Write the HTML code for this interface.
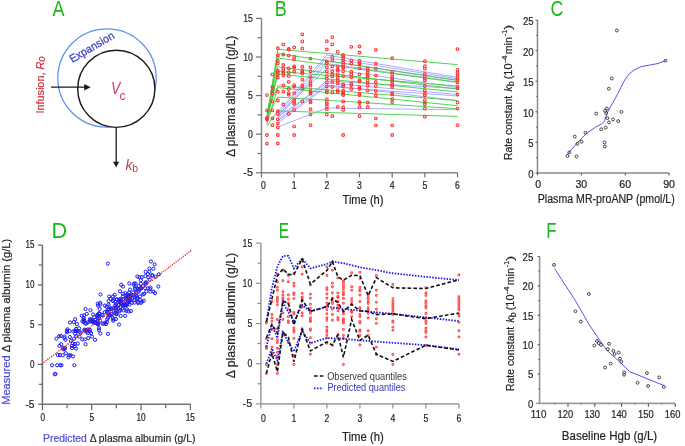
<!DOCTYPE html>
<html><head><meta charset="utf-8"><style>
html,body{margin:0;padding:0;background:#fff;}
svg{display:block;font-family:'Liberation Sans', sans-serif;will-change:transform;}
</style></head><body>
<svg width="685" height="446" viewBox="0 0 685 446">
<rect width="685" height="446" fill="#fff"/>
<text x="52.50" y="15.80" font-size="22" text-anchor="start" fill="#19b619" textLength="12.0" lengthAdjust="spacingAndGlyphs" >A</text>
<circle cx="107" cy="78" r="49.2" fill="none" stroke="#5a92f0" stroke-width="1.25"/>
<circle cx="116.3" cy="88.8" r="38.6" fill="#fff" stroke="#1a1a1a" stroke-width="1.4"/>
<text transform="translate(72.2,63.1) rotate(-30.5)" font-size="11.2" fill="#3b3ec6" stroke="#3b3ec6" stroke-width="0.25" textLength="50" lengthAdjust="spacingAndGlyphs">Expansion</text>
<line x1="51.10" y1="87.20" x2="85.00" y2="87.20" stroke="#1a1a1a" stroke-width="1.3" />
<path d="M84.2,84 L90.7,87.2 L84.2,90.4 Z" fill="#1a1a1a"/>
<line x1="116.20" y1="127.40" x2="116.20" y2="162.50" stroke="#1a1a1a" stroke-width="1.3" />
<path d="M113,161.8 L116.2,167.2 L119.2,161.8 Z" fill="#1a1a1a"/>
<text x="110.90" y="93.80" font-size="17" text-anchor="start" fill="#d6336c" textLength="9.3" lengthAdjust="spacingAndGlyphs" font-style="italic">V</text>
<text x="119.60" y="99.60" font-size="12" text-anchor="start" fill="#d6336c" >c</text>
<text x="125.50" y="169.50" font-size="14" text-anchor="start" fill="#cc3a3a" font-style="italic">k</text>
<text x="132.30" y="172.30" font-size="10.5" text-anchor="start" fill="#cc3a3a" >b</text>
<text transform="translate(44.4,113.6) rotate(-90)" font-size="11.8" fill="#c9303a" stroke="#c9303a" stroke-width="0.2" textLength="57.3" lengthAdjust="spacingAndGlyphs">Infusion, <tspan font-style="italic">R</tspan><tspan font-style="italic" font-size="10.5" dy="0.8">o</tspan></text>
<text x="274.66" y="15.80" font-size="22" text-anchor="start" fill="#19b619" textLength="12.0" lengthAdjust="spacingAndGlyphs" >B</text>
<path d="M261.50,18.40 L261.50,172.80 L457.52,172.80" fill="none" stroke="#858585" stroke-width="1.45"/>
<line x1="256.00" y1="172.80" x2="261.50" y2="172.80" stroke="#6a6a6a" stroke-width="1.15" />
<line x1="257.50" y1="153.50" x2="261.50" y2="153.50" stroke="#6a6a6a" stroke-width="1.15" />
<line x1="256.00" y1="134.20" x2="261.50" y2="134.20" stroke="#6a6a6a" stroke-width="1.15" />
<line x1="257.50" y1="114.90" x2="261.50" y2="114.90" stroke="#6a6a6a" stroke-width="1.15" />
<line x1="256.00" y1="95.60" x2="261.50" y2="95.60" stroke="#6a6a6a" stroke-width="1.15" />
<line x1="257.50" y1="76.30" x2="261.50" y2="76.30" stroke="#6a6a6a" stroke-width="1.15" />
<line x1="256.00" y1="57.00" x2="261.50" y2="57.00" stroke="#6a6a6a" stroke-width="1.15" />
<line x1="257.50" y1="37.70" x2="261.50" y2="37.70" stroke="#6a6a6a" stroke-width="1.15" />
<line x1="256.00" y1="18.40" x2="261.50" y2="18.40" stroke="#6a6a6a" stroke-width="1.15" />
<line x1="261.50" y1="172.80" x2="261.50" y2="177.40" stroke="#6a6a6a" stroke-width="1.15" />
<line x1="294.17" y1="172.80" x2="294.17" y2="177.40" stroke="#6a6a6a" stroke-width="1.15" />
<line x1="326.84" y1="172.80" x2="326.84" y2="177.40" stroke="#6a6a6a" stroke-width="1.15" />
<line x1="359.51" y1="172.80" x2="359.51" y2="177.40" stroke="#6a6a6a" stroke-width="1.15" />
<line x1="392.18" y1="172.80" x2="392.18" y2="177.40" stroke="#6a6a6a" stroke-width="1.15" />
<line x1="424.85" y1="172.80" x2="424.85" y2="177.40" stroke="#6a6a6a" stroke-width="1.15" />
<line x1="457.52" y1="172.80" x2="457.52" y2="177.40" stroke="#6a6a6a" stroke-width="1.15" />
<text x="252.90" y="176.30" font-size="10.3" text-anchor="end" fill="#231f20" textLength="9.6" lengthAdjust="spacingAndGlyphs" stroke="#231f20" stroke-width="0.22">-5</text>
<text x="252.90" y="137.70" font-size="10.3" text-anchor="end" fill="#231f20" textLength="4.8" lengthAdjust="spacingAndGlyphs" stroke="#231f20" stroke-width="0.22">0</text>
<text x="252.90" y="99.10" font-size="10.3" text-anchor="end" fill="#231f20" textLength="4.8" lengthAdjust="spacingAndGlyphs" stroke="#231f20" stroke-width="0.22">5</text>
<text x="252.90" y="60.50" font-size="10.3" text-anchor="end" fill="#231f20" textLength="9.6" lengthAdjust="spacingAndGlyphs" stroke="#231f20" stroke-width="0.22">10</text>
<text x="252.90" y="21.90" font-size="10.3" text-anchor="end" fill="#231f20" textLength="9.6" lengthAdjust="spacingAndGlyphs" stroke="#231f20" stroke-width="0.22">15</text>
<text x="263.50" y="189.20" font-size="10.3" text-anchor="middle" fill="#231f20" textLength="4.8" lengthAdjust="spacingAndGlyphs" stroke="#231f20" stroke-width="0.22">0</text>
<text x="294.17" y="189.20" font-size="10.3" text-anchor="middle" fill="#231f20" textLength="4.8" lengthAdjust="spacingAndGlyphs" stroke="#231f20" stroke-width="0.22">1</text>
<text x="326.84" y="189.20" font-size="10.3" text-anchor="middle" fill="#231f20" textLength="4.8" lengthAdjust="spacingAndGlyphs" stroke="#231f20" stroke-width="0.22">2</text>
<text x="359.51" y="189.20" font-size="10.3" text-anchor="middle" fill="#231f20" textLength="4.8" lengthAdjust="spacingAndGlyphs" stroke="#231f20" stroke-width="0.22">3</text>
<text x="392.18" y="189.20" font-size="10.3" text-anchor="middle" fill="#231f20" textLength="4.8" lengthAdjust="spacingAndGlyphs" stroke="#231f20" stroke-width="0.22">4</text>
<text x="424.85" y="189.20" font-size="10.3" text-anchor="middle" fill="#231f20" textLength="4.8" lengthAdjust="spacingAndGlyphs" stroke="#231f20" stroke-width="0.22">5</text>
<text x="457.52" y="189.20" font-size="10.3" text-anchor="middle" fill="#231f20" textLength="4.8" lengthAdjust="spacingAndGlyphs" stroke="#231f20" stroke-width="0.22">6</text>
<text x="363.00" y="204.00" font-size="12" text-anchor="middle" fill="#231f20" textLength="41.0" lengthAdjust="spacingAndGlyphs" stroke="#231f20" stroke-width="0.2">Time (h)</text>
<text transform="translate(235.00,96.20) rotate(-90)" font-size="12" text-anchor="middle" fill="#231f20" textLength="121.0" lengthAdjust="spacingAndGlyphs" stroke="#231f20" stroke-width="0.2">Δ plasma albumin (g/L)</text>
<text x="550.50" y="15.60" font-size="22" text-anchor="start" fill="#19b619" textLength="12.9" lengthAdjust="spacingAndGlyphs" >C</text>
<path d="M537.50,20.10 L537.50,172.90 L669.10,172.90" fill="none" stroke="#8a8a8a" stroke-width="1.5"/>
<line x1="535.50" y1="172.90" x2="537.50" y2="172.90" stroke="#606060" stroke-width="1.15" />
<line x1="536.30" y1="157.62" x2="537.50" y2="157.62" stroke="#606060" stroke-width="1.15" />
<line x1="535.50" y1="142.34" x2="537.50" y2="142.34" stroke="#606060" stroke-width="1.15" />
<line x1="536.30" y1="127.06" x2="537.50" y2="127.06" stroke="#606060" stroke-width="1.15" />
<line x1="535.50" y1="111.78" x2="537.50" y2="111.78" stroke="#606060" stroke-width="1.15" />
<line x1="536.30" y1="96.50" x2="537.50" y2="96.50" stroke="#606060" stroke-width="1.15" />
<line x1="535.50" y1="81.22" x2="537.50" y2="81.22" stroke="#606060" stroke-width="1.15" />
<line x1="536.30" y1="65.94" x2="537.50" y2="65.94" stroke="#606060" stroke-width="1.15" />
<line x1="535.50" y1="50.66" x2="537.50" y2="50.66" stroke="#606060" stroke-width="1.15" />
<line x1="536.30" y1="35.38" x2="537.50" y2="35.38" stroke="#606060" stroke-width="1.15" />
<line x1="535.50" y1="20.10" x2="537.50" y2="20.10" stroke="#606060" stroke-width="1.15" />
<line x1="537.50" y1="172.90" x2="537.50" y2="175.40" stroke="#606060" stroke-width="1.15" />
<line x1="581.37" y1="172.90" x2="581.37" y2="175.40" stroke="#606060" stroke-width="1.15" />
<line x1="625.23" y1="172.90" x2="625.23" y2="175.40" stroke="#606060" stroke-width="1.15" />
<line x1="669.10" y1="172.90" x2="669.10" y2="175.40" stroke="#606060" stroke-width="1.15" />
<text x="533.60" y="177.90" font-size="10.8" text-anchor="end" fill="#231f20" textLength="5.3" lengthAdjust="spacingAndGlyphs" stroke="#231f20" stroke-width="0.22">0</text>
<text x="533.60" y="147.34" font-size="10.8" text-anchor="end" fill="#231f20" textLength="5.3" lengthAdjust="spacingAndGlyphs" stroke="#231f20" stroke-width="0.22">5</text>
<text x="533.60" y="116.78" font-size="10.8" text-anchor="end" fill="#231f20" textLength="10.7" lengthAdjust="spacingAndGlyphs" stroke="#231f20" stroke-width="0.22">10</text>
<text x="533.60" y="86.22" font-size="10.8" text-anchor="end" fill="#231f20" textLength="10.7" lengthAdjust="spacingAndGlyphs" stroke="#231f20" stroke-width="0.22">15</text>
<text x="533.60" y="55.66" font-size="10.8" text-anchor="end" fill="#231f20" textLength="10.7" lengthAdjust="spacingAndGlyphs" stroke="#231f20" stroke-width="0.22">20</text>
<text x="533.60" y="25.10" font-size="10.8" text-anchor="end" fill="#231f20" textLength="10.7" lengthAdjust="spacingAndGlyphs" stroke="#231f20" stroke-width="0.22">25</text>
<text x="538.30" y="187.60" font-size="10.5" text-anchor="middle" fill="#231f20" textLength="5.9" lengthAdjust="spacingAndGlyphs" stroke="#231f20" stroke-width="0.22">0</text>
<text x="581.37" y="187.60" font-size="10.5" text-anchor="middle" fill="#231f20" textLength="11.8" lengthAdjust="spacingAndGlyphs" stroke="#231f20" stroke-width="0.22">30</text>
<text x="625.23" y="187.60" font-size="10.5" text-anchor="middle" fill="#231f20" textLength="11.8" lengthAdjust="spacingAndGlyphs" stroke="#231f20" stroke-width="0.22">60</text>
<text x="669.10" y="187.60" font-size="10.5" text-anchor="middle" fill="#231f20" textLength="11.8" lengthAdjust="spacingAndGlyphs" stroke="#231f20" stroke-width="0.22">90</text>
<text x="606.30" y="203.00" font-size="12" text-anchor="middle" fill="#231f20" textLength="137.0" lengthAdjust="spacingAndGlyphs" stroke="#231f20" stroke-width="0.2">Plasma MR-proANP (pmol/L)</text>
<text transform="translate(512.20,159.90) rotate(-90)" font-size="10.6" fill="#231f20" stroke="#231f20" stroke-width="0.2" textLength="64" lengthAdjust="spacingAndGlyphs">Rate constant</text>
<text transform="translate(512.20,91.60) rotate(-90)" font-size="11.5" fill="#231f20" stroke="#231f20" stroke-width="0.2" textLength="5.2" lengthAdjust="spacingAndGlyphs" font-style="italic">k</text>
<text transform="translate(514.20,86.20) rotate(-90)" font-size="8.2" fill="#231f20" stroke="#231f20" stroke-width="0.2" textLength="5.0" lengthAdjust="spacingAndGlyphs">b</text>
<text transform="translate(512.20,79.30) rotate(-90)" font-size="10.6" fill="#231f20" stroke="#231f20" stroke-width="0.2" textLength="15.8" lengthAdjust="spacingAndGlyphs">(10</text>
<text transform="translate(507.30,63.20) rotate(-90)" font-size="7.6" fill="#231f20" stroke="#231f20" stroke-width="0.2" textLength="7.9" lengthAdjust="spacingAndGlyphs">-4</text>
<text transform="translate(512.20,54.20) rotate(-90)" font-size="10.6" fill="#231f20" stroke="#231f20" stroke-width="0.2" textLength="17.0" lengthAdjust="spacingAndGlyphs">min</text>
<text transform="translate(507.30,36.00) rotate(-90)" font-size="7.6" fill="#231f20" stroke="#231f20" stroke-width="0.2" textLength="6.2" lengthAdjust="spacingAndGlyphs">-1</text>
<text transform="translate(512.20,30.00) rotate(-90)" font-size="10.6" fill="#231f20" stroke="#231f20" stroke-width="0.2" textLength="5.3" lengthAdjust="spacingAndGlyphs">)</text>
<text x="51.47" y="237.50" font-size="22" text-anchor="start" fill="#19b619" textLength="15.7" lengthAdjust="spacingAndGlyphs" >D</text>
<path d="M42.40,245.10 L42.40,404.20 L190.38,404.20" fill="none" stroke="#747474" stroke-width="1.6"/>
<line x1="37.90" y1="404.20" x2="42.40" y2="404.20" stroke="#606060" stroke-width="1.15" />
<line x1="38.90" y1="384.31" x2="42.40" y2="384.31" stroke="#606060" stroke-width="1.15" />
<line x1="37.90" y1="364.43" x2="42.40" y2="364.43" stroke="#606060" stroke-width="1.15" />
<line x1="38.90" y1="344.54" x2="42.40" y2="344.54" stroke="#606060" stroke-width="1.15" />
<line x1="37.90" y1="324.65" x2="42.40" y2="324.65" stroke="#606060" stroke-width="1.15" />
<line x1="38.90" y1="304.76" x2="42.40" y2="304.76" stroke="#606060" stroke-width="1.15" />
<line x1="37.90" y1="284.88" x2="42.40" y2="284.88" stroke="#606060" stroke-width="1.15" />
<line x1="38.90" y1="264.99" x2="42.40" y2="264.99" stroke="#606060" stroke-width="1.15" />
<line x1="37.90" y1="245.10" x2="42.40" y2="245.10" stroke="#606060" stroke-width="1.15" />
<line x1="42.40" y1="404.20" x2="42.40" y2="410.20" stroke="#606060" stroke-width="1.15" />
<line x1="67.06" y1="404.20" x2="67.06" y2="408.20" stroke="#606060" stroke-width="1.15" />
<line x1="91.72" y1="404.20" x2="91.72" y2="410.20" stroke="#606060" stroke-width="1.15" />
<line x1="116.39" y1="404.20" x2="116.39" y2="408.20" stroke="#606060" stroke-width="1.15" />
<line x1="141.05" y1="404.20" x2="141.05" y2="410.20" stroke="#606060" stroke-width="1.15" />
<line x1="165.71" y1="404.20" x2="165.71" y2="408.20" stroke="#606060" stroke-width="1.15" />
<line x1="190.38" y1="404.20" x2="190.38" y2="410.20" stroke="#606060" stroke-width="1.15" />
<text x="34.40" y="407.50" font-size="10.1" text-anchor="end" fill="#231f20" textLength="9.0" lengthAdjust="spacingAndGlyphs" stroke="#231f20" stroke-width="0.22">-5</text>
<text x="34.40" y="367.73" font-size="10.1" text-anchor="end" fill="#231f20" textLength="4.5" lengthAdjust="spacingAndGlyphs" stroke="#231f20" stroke-width="0.22">0</text>
<text x="34.40" y="327.95" font-size="10.1" text-anchor="end" fill="#231f20" textLength="4.5" lengthAdjust="spacingAndGlyphs" stroke="#231f20" stroke-width="0.22">5</text>
<text x="34.40" y="288.18" font-size="10.1" text-anchor="end" fill="#231f20" textLength="9.0" lengthAdjust="spacingAndGlyphs" stroke="#231f20" stroke-width="0.22">10</text>
<text x="34.40" y="248.40" font-size="10.1" text-anchor="end" fill="#231f20" textLength="9.0" lengthAdjust="spacingAndGlyphs" stroke="#231f20" stroke-width="0.22">15</text>
<text x="42.90" y="421.30" font-size="10.1" text-anchor="middle" fill="#231f20" textLength="4.6" lengthAdjust="spacingAndGlyphs" stroke="#231f20" stroke-width="0.22">0</text>
<text x="91.72" y="421.30" font-size="10.1" text-anchor="middle" fill="#231f20" textLength="4.6" lengthAdjust="spacingAndGlyphs" stroke="#231f20" stroke-width="0.22">5</text>
<text x="141.05" y="421.30" font-size="10.1" text-anchor="middle" fill="#231f20" textLength="9.2" lengthAdjust="spacingAndGlyphs" stroke="#231f20" stroke-width="0.22">10</text>
<text x="190.38" y="421.30" font-size="10.1" text-anchor="middle" fill="#231f20" textLength="9.2" lengthAdjust="spacingAndGlyphs" stroke="#231f20" stroke-width="0.22">15</text>
<text x="43.1" y="441.7" font-size="11" fill="#231f20" stroke="#231f20" stroke-width="0.2" textLength="152.3" lengthAdjust="spacingAndGlyphs"><tspan fill="#4b4bd6" stroke="#4b4bd6">Predicted</tspan> Δ plasma albumin (g/L)</text>
<text transform="translate(9.6,321.8) rotate(-90)" font-size="11" text-anchor="middle" fill="#231f20" stroke="#231f20" stroke-width="0.2" textLength="166" lengthAdjust="spacingAndGlyphs"><tspan fill="#4b4bd6" stroke="#4b4bd6">Measured</tspan> Δ plasma albumin (g/L)</text>
<text x="278.65" y="237.70" font-size="22" text-anchor="start" fill="#19b619" textLength="10.4" lengthAdjust="spacingAndGlyphs" >E</text>
<path d="M260.90,243.10 L260.90,403.90 L458.90,403.90" fill="none" stroke="#a8a8a8" stroke-width="1.7"/>
<line x1="256.10" y1="403.90" x2="260.90" y2="403.90" stroke="#8a8a8a" stroke-width="1.15" />
<line x1="257.40" y1="383.80" x2="260.90" y2="383.80" stroke="#8a8a8a" stroke-width="1.15" />
<line x1="256.10" y1="363.70" x2="260.90" y2="363.70" stroke="#8a8a8a" stroke-width="1.15" />
<line x1="257.40" y1="343.60" x2="260.90" y2="343.60" stroke="#8a8a8a" stroke-width="1.15" />
<line x1="256.10" y1="323.50" x2="260.90" y2="323.50" stroke="#8a8a8a" stroke-width="1.15" />
<line x1="257.40" y1="303.40" x2="260.90" y2="303.40" stroke="#8a8a8a" stroke-width="1.15" />
<line x1="256.10" y1="283.30" x2="260.90" y2="283.30" stroke="#8a8a8a" stroke-width="1.15" />
<line x1="257.40" y1="263.20" x2="260.90" y2="263.20" stroke="#8a8a8a" stroke-width="1.15" />
<line x1="256.10" y1="243.10" x2="260.90" y2="243.10" stroke="#8a8a8a" stroke-width="1.15" />
<line x1="260.90" y1="403.90" x2="260.90" y2="408.40" stroke="#8a8a8a" stroke-width="1.15" />
<line x1="293.90" y1="403.90" x2="293.90" y2="408.40" stroke="#8a8a8a" stroke-width="1.15" />
<line x1="326.90" y1="403.90" x2="326.90" y2="408.40" stroke="#8a8a8a" stroke-width="1.15" />
<line x1="359.90" y1="403.90" x2="359.90" y2="408.40" stroke="#8a8a8a" stroke-width="1.15" />
<line x1="392.90" y1="403.90" x2="392.90" y2="408.40" stroke="#8a8a8a" stroke-width="1.15" />
<line x1="425.90" y1="403.90" x2="425.90" y2="408.40" stroke="#8a8a8a" stroke-width="1.15" />
<line x1="458.90" y1="403.90" x2="458.90" y2="408.40" stroke="#8a8a8a" stroke-width="1.15" />
<text x="252.20" y="407.40" font-size="10.3" text-anchor="end" fill="#231f20" textLength="9.6" lengthAdjust="spacingAndGlyphs" stroke="#231f20" stroke-width="0.22">-5</text>
<text x="252.20" y="367.20" font-size="10.3" text-anchor="end" fill="#231f20" textLength="4.8" lengthAdjust="spacingAndGlyphs" stroke="#231f20" stroke-width="0.22">0</text>
<text x="252.20" y="327.00" font-size="10.3" text-anchor="end" fill="#231f20" textLength="4.8" lengthAdjust="spacingAndGlyphs" stroke="#231f20" stroke-width="0.22">5</text>
<text x="252.20" y="286.80" font-size="10.3" text-anchor="end" fill="#231f20" textLength="9.6" lengthAdjust="spacingAndGlyphs" stroke="#231f20" stroke-width="0.22">10</text>
<text x="252.20" y="246.60" font-size="10.3" text-anchor="end" fill="#231f20" textLength="9.6" lengthAdjust="spacingAndGlyphs" stroke="#231f20" stroke-width="0.22">15</text>
<text x="263.50" y="421.60" font-size="10.3" text-anchor="middle" fill="#231f20" textLength="4.8" lengthAdjust="spacingAndGlyphs" stroke="#231f20" stroke-width="0.22">0</text>
<text x="293.90" y="421.60" font-size="10.3" text-anchor="middle" fill="#231f20" textLength="4.8" lengthAdjust="spacingAndGlyphs" stroke="#231f20" stroke-width="0.22">1</text>
<text x="326.90" y="421.60" font-size="10.3" text-anchor="middle" fill="#231f20" textLength="4.8" lengthAdjust="spacingAndGlyphs" stroke="#231f20" stroke-width="0.22">2</text>
<text x="359.90" y="421.60" font-size="10.3" text-anchor="middle" fill="#231f20" textLength="4.8" lengthAdjust="spacingAndGlyphs" stroke="#231f20" stroke-width="0.22">3</text>
<text x="392.90" y="421.60" font-size="10.3" text-anchor="middle" fill="#231f20" textLength="4.8" lengthAdjust="spacingAndGlyphs" stroke="#231f20" stroke-width="0.22">4</text>
<text x="425.90" y="421.60" font-size="10.3" text-anchor="middle" fill="#231f20" textLength="4.8" lengthAdjust="spacingAndGlyphs" stroke="#231f20" stroke-width="0.22">5</text>
<text x="458.90" y="421.60" font-size="10.3" text-anchor="middle" fill="#231f20" textLength="4.8" lengthAdjust="spacingAndGlyphs" stroke="#231f20" stroke-width="0.22">6</text>
<text x="363.00" y="440.60" font-size="12" text-anchor="middle" fill="#231f20" textLength="41.8" lengthAdjust="spacingAndGlyphs" stroke="#231f20" stroke-width="0.2">Time (h)</text>
<text transform="translate(235.00,315.60) rotate(-90)" font-size="12.2" text-anchor="middle" fill="#231f20" textLength="125.3" lengthAdjust="spacingAndGlyphs" stroke="#231f20" stroke-width="0.2">Δ plasma albumin (g/L)</text>
<text x="546.26" y="237.70" font-size="22" text-anchor="start" fill="#19b619" textLength="10.2" lengthAdjust="spacingAndGlyphs" >F</text>
<path d="M539.60,256.50 L539.60,403.40 L675.20,403.40" fill="none" stroke="#9c9c9c" stroke-width="1.7"/>
<line x1="537.60" y1="403.40" x2="539.60" y2="403.40" stroke="#555" stroke-width="1.15" />
<line x1="538.40" y1="388.71" x2="539.60" y2="388.71" stroke="#555" stroke-width="1.15" />
<line x1="537.60" y1="374.02" x2="539.60" y2="374.02" stroke="#555" stroke-width="1.15" />
<line x1="538.40" y1="359.33" x2="539.60" y2="359.33" stroke="#555" stroke-width="1.15" />
<line x1="537.60" y1="344.64" x2="539.60" y2="344.64" stroke="#555" stroke-width="1.15" />
<line x1="538.40" y1="329.95" x2="539.60" y2="329.95" stroke="#555" stroke-width="1.15" />
<line x1="537.60" y1="315.26" x2="539.60" y2="315.26" stroke="#555" stroke-width="1.15" />
<line x1="538.40" y1="300.57" x2="539.60" y2="300.57" stroke="#555" stroke-width="1.15" />
<line x1="537.60" y1="285.88" x2="539.60" y2="285.88" stroke="#555" stroke-width="1.15" />
<line x1="538.40" y1="271.19" x2="539.60" y2="271.19" stroke="#555" stroke-width="1.15" />
<line x1="537.60" y1="256.50" x2="539.60" y2="256.50" stroke="#555" stroke-width="1.15" />
<line x1="568.00" y1="403.40" x2="568.00" y2="406.70" stroke="#555" stroke-width="1.15" />
<line x1="594.80" y1="403.40" x2="594.80" y2="406.70" stroke="#555" stroke-width="1.15" />
<line x1="621.60" y1="403.40" x2="621.60" y2="406.70" stroke="#555" stroke-width="1.15" />
<line x1="648.40" y1="403.40" x2="648.40" y2="406.70" stroke="#555" stroke-width="1.15" />
<line x1="675.20" y1="403.40" x2="675.20" y2="406.70" stroke="#555" stroke-width="1.15" />
<line x1="554.60" y1="403.40" x2="554.60" y2="404.20" stroke="#555" stroke-width="1.15" />
<line x1="581.40" y1="403.40" x2="581.40" y2="404.20" stroke="#555" stroke-width="1.15" />
<line x1="608.20" y1="403.40" x2="608.20" y2="404.20" stroke="#555" stroke-width="1.15" />
<line x1="635.00" y1="403.40" x2="635.00" y2="404.20" stroke="#555" stroke-width="1.15" />
<line x1="661.80" y1="403.40" x2="661.80" y2="404.20" stroke="#555" stroke-width="1.15" />
<line x1="535.90" y1="403.40" x2="539.60" y2="403.40" stroke="#9c9c9c" stroke-width="1.5" />
<text x="533.30" y="407.80" font-size="10.8" text-anchor="end" fill="#231f20" textLength="5.3" lengthAdjust="spacingAndGlyphs" stroke="#231f20" stroke-width="0.22">0</text>
<text x="533.30" y="378.42" font-size="10.8" text-anchor="end" fill="#231f20" textLength="5.3" lengthAdjust="spacingAndGlyphs" stroke="#231f20" stroke-width="0.22">5</text>
<text x="533.30" y="349.04" font-size="10.8" text-anchor="end" fill="#231f20" textLength="10.7" lengthAdjust="spacingAndGlyphs" stroke="#231f20" stroke-width="0.22">10</text>
<text x="533.30" y="319.66" font-size="10.8" text-anchor="end" fill="#231f20" textLength="10.7" lengthAdjust="spacingAndGlyphs" stroke="#231f20" stroke-width="0.22">15</text>
<text x="533.30" y="290.28" font-size="10.8" text-anchor="end" fill="#231f20" textLength="10.7" lengthAdjust="spacingAndGlyphs" stroke="#231f20" stroke-width="0.22">20</text>
<text x="533.30" y="260.90" font-size="10.8" text-anchor="end" fill="#231f20" textLength="10.7" lengthAdjust="spacingAndGlyphs" stroke="#231f20" stroke-width="0.22">25</text>
<text x="538.60" y="418.30" font-size="10.8" text-anchor="middle" fill="#231f20" textLength="15.6" lengthAdjust="spacingAndGlyphs" stroke="#231f20" stroke-width="0.22">110</text>
<text x="565.40" y="418.30" font-size="10.8" text-anchor="middle" fill="#231f20" textLength="15.6" lengthAdjust="spacingAndGlyphs" stroke="#231f20" stroke-width="0.22">120</text>
<text x="592.20" y="418.30" font-size="10.8" text-anchor="middle" fill="#231f20" textLength="15.6" lengthAdjust="spacingAndGlyphs" stroke="#231f20" stroke-width="0.22">130</text>
<text x="619.00" y="418.30" font-size="10.8" text-anchor="middle" fill="#231f20" textLength="15.6" lengthAdjust="spacingAndGlyphs" stroke="#231f20" stroke-width="0.22">140</text>
<text x="645.80" y="418.30" font-size="10.8" text-anchor="middle" fill="#231f20" textLength="15.6" lengthAdjust="spacingAndGlyphs" stroke="#231f20" stroke-width="0.22">150</text>
<text x="672.60" y="418.30" font-size="10.8" text-anchor="middle" fill="#231f20" textLength="15.6" lengthAdjust="spacingAndGlyphs" stroke="#231f20" stroke-width="0.22">160</text>
<text x="609.50" y="439.70" font-size="12" text-anchor="middle" fill="#231f20" textLength="95.3" lengthAdjust="spacingAndGlyphs" stroke="#231f20" stroke-width="0.2">Baseline Hgb (g/L)</text>
<text transform="translate(513.50,390.90) rotate(-90)" font-size="10.6" fill="#231f20" stroke="#231f20" stroke-width="0.2" textLength="64" lengthAdjust="spacingAndGlyphs">Rate constant</text>
<text transform="translate(513.50,322.60) rotate(-90)" font-size="11.5" fill="#231f20" stroke="#231f20" stroke-width="0.2" textLength="5.2" lengthAdjust="spacingAndGlyphs" font-style="italic">k</text>
<text transform="translate(515.50,317.20) rotate(-90)" font-size="8.2" fill="#231f20" stroke="#231f20" stroke-width="0.2" textLength="5.0" lengthAdjust="spacingAndGlyphs">b</text>
<text transform="translate(513.50,310.30) rotate(-90)" font-size="10.6" fill="#231f20" stroke="#231f20" stroke-width="0.2" textLength="15.8" lengthAdjust="spacingAndGlyphs">(10</text>
<text transform="translate(508.60,294.20) rotate(-90)" font-size="7.6" fill="#231f20" stroke="#231f20" stroke-width="0.2" textLength="7.9" lengthAdjust="spacingAndGlyphs">-4</text>
<text transform="translate(513.50,285.20) rotate(-90)" font-size="10.6" fill="#231f20" stroke="#231f20" stroke-width="0.2" textLength="17.0" lengthAdjust="spacingAndGlyphs">min</text>
<text transform="translate(508.60,267.00) rotate(-90)" font-size="7.6" fill="#231f20" stroke="#231f20" stroke-width="0.2" textLength="6.2" lengthAdjust="spacingAndGlyphs">-1</text>
<text transform="translate(513.50,261.00) rotate(-90)" font-size="10.6" fill="#231f20" stroke="#231f20" stroke-width="0.2" textLength="5.3" lengthAdjust="spacingAndGlyphs">)</text>
<g fill="none" stroke-width="0.8" stroke="#8a8aff" opacity="0.9">
<polyline points="277.83,112 326.84,55.1 457.52,77.4"/>
<polyline points="277.83,114 326.84,57.5 457.52,78.8"/>
<polyline points="277.83,116 326.84,61 457.52,80.2"/>
<polyline points="277.83,118 326.84,63.5 457.52,82"/>
<polyline points="277.83,115 326.84,68.6 457.52,87.5"/>
<polyline points="277.83,120 326.84,81 457.52,88.5"/>
<polyline points="277.83,117 326.84,82.9 457.52,94.5"/>
<polyline points="277.83,121 326.84,85 457.52,100.6"/>
<polyline points="277.83,123 326.84,86.5 457.52,96"/>
<polyline points="277.83,127 326.84,108 457.52,109.7"/>
</g>
<g fill="none" stroke-width="0.9" stroke="#40cc40">
<polyline points="266.95,118 277.83,49.3 457.52,64.6"/>
<polyline points="266.95,116 277.83,53.5 457.52,80.4"/>
<polyline points="266.95,120 277.83,58 457.52,82.4"/>
<polyline points="266.95,114 277.83,66.9 457.52,89.1"/>
<polyline points="266.95,122 277.83,71.4 457.52,86"/>
<polyline points="266.95,119 277.83,74.1 457.52,92"/>
<polyline points="266.95,112 277.83,85.8 457.52,100.6"/>
<polyline points="266.95,124 277.83,87.6 457.52,105.7"/>
<polyline points="266.95,117 277.83,97.1 457.52,108.7"/>
<polyline points="266.95,126 277.83,111 457.52,116.4"/>
</g>
<g fill="none" stroke="#ff3434" stroke-width="1.1">
<circle cx="266.95" cy="95.10" r="1.35"/>
<circle cx="266.95" cy="110.30" r="1.35"/>
<circle cx="266.95" cy="118.00" r="1.35"/>
<circle cx="266.95" cy="118.80" r="1.35"/>
<circle cx="266.95" cy="119.50" r="1.35"/>
<circle cx="266.95" cy="135.00" r="1.35"/>
<circle cx="266.95" cy="143.70" r="1.35"/>
<circle cx="272.39" cy="74.40" r="1.35"/>
<circle cx="272.39" cy="87.00" r="1.35"/>
<circle cx="272.39" cy="90.40" r="1.35"/>
<circle cx="272.39" cy="93.30" r="1.35"/>
<circle cx="272.39" cy="101.40" r="1.35"/>
<circle cx="272.39" cy="110.30" r="1.35"/>
<circle cx="272.39" cy="118.30" r="1.35"/>
<circle cx="272.39" cy="125.20" r="1.35"/>
<circle cx="277.83" cy="48.20" r="1.35"/>
<circle cx="277.83" cy="55.60" r="1.35"/>
<circle cx="277.83" cy="60.90" r="1.35"/>
<circle cx="277.83" cy="63.60" r="1.35"/>
<circle cx="277.83" cy="70.70" r="1.35"/>
<circle cx="277.83" cy="72.40" r="1.35"/>
<circle cx="277.83" cy="74.40" r="1.35"/>
<circle cx="277.83" cy="77.50" r="1.35"/>
<circle cx="277.83" cy="91.70" r="1.35"/>
<circle cx="277.83" cy="100.50" r="1.35"/>
<circle cx="277.83" cy="111.20" r="1.35"/>
<circle cx="277.83" cy="113.90" r="1.35"/>
<circle cx="277.83" cy="119.30" r="1.35"/>
<circle cx="277.83" cy="123.30" r="1.35"/>
<circle cx="277.83" cy="127.30" r="1.35"/>
<circle cx="277.83" cy="135.00" r="1.35"/>
<circle cx="277.83" cy="143.50" r="1.35"/>
<circle cx="283.28" cy="44.40" r="1.35"/>
<circle cx="283.28" cy="54.50" r="1.35"/>
<circle cx="283.28" cy="65.00" r="1.35"/>
<circle cx="283.28" cy="68.30" r="1.35"/>
<circle cx="283.28" cy="71.00" r="1.35"/>
<circle cx="283.28" cy="72.80" r="1.35"/>
<circle cx="283.28" cy="75.30" r="1.35"/>
<circle cx="283.28" cy="85.50" r="1.35"/>
<circle cx="283.28" cy="91.70" r="1.35"/>
<circle cx="283.28" cy="104.50" r="1.35"/>
<circle cx="288.72" cy="48.80" r="1.35"/>
<circle cx="288.72" cy="49.50" r="1.35"/>
<circle cx="288.72" cy="55.60" r="1.35"/>
<circle cx="288.72" cy="68.30" r="1.35"/>
<circle cx="288.72" cy="72.40" r="1.35"/>
<circle cx="288.72" cy="76.10" r="1.35"/>
<circle cx="288.72" cy="81.80" r="1.35"/>
<circle cx="288.72" cy="89.00" r="1.35"/>
<circle cx="288.72" cy="93.10" r="1.35"/>
<circle cx="288.72" cy="94.70" r="1.35"/>
<circle cx="288.72" cy="113.90" r="1.35"/>
<circle cx="294.17" cy="47.50" r="1.35"/>
<circle cx="294.17" cy="56.90" r="1.35"/>
<circle cx="294.17" cy="59.60" r="1.35"/>
<circle cx="294.17" cy="66.30" r="1.35"/>
<circle cx="294.17" cy="67.70" r="1.35"/>
<circle cx="294.17" cy="71.70" r="1.35"/>
<circle cx="294.17" cy="85.10" r="1.35"/>
<circle cx="294.17" cy="86.60" r="1.35"/>
<circle cx="294.17" cy="93.10" r="1.35"/>
<circle cx="294.17" cy="99.80" r="1.35"/>
<circle cx="294.17" cy="101.80" r="1.35"/>
<circle cx="294.17" cy="103.80" r="1.35"/>
<circle cx="294.17" cy="109.90" r="1.35"/>
<circle cx="294.17" cy="126.40" r="1.35"/>
<circle cx="294.17" cy="135.00" r="1.35"/>
<circle cx="302.34" cy="34.30" r="1.35"/>
<circle cx="302.34" cy="41.40" r="1.35"/>
<circle cx="302.34" cy="48.40" r="1.35"/>
<circle cx="302.34" cy="66.70" r="1.35"/>
<circle cx="302.34" cy="70.30" r="1.35"/>
<circle cx="302.34" cy="72.10" r="1.35"/>
<circle cx="302.34" cy="73.70" r="1.35"/>
<circle cx="302.34" cy="79.70" r="1.35"/>
<circle cx="302.34" cy="85.50" r="1.35"/>
<circle cx="302.34" cy="88.40" r="1.35"/>
<circle cx="302.34" cy="101.40" r="1.35"/>
<circle cx="310.50" cy="58.60" r="1.35"/>
<circle cx="310.50" cy="67.40" r="1.35"/>
<circle cx="310.50" cy="71.30" r="1.35"/>
<circle cx="310.50" cy="77.10" r="1.35"/>
<circle cx="310.50" cy="81.10" r="1.35"/>
<circle cx="310.50" cy="83.80" r="1.35"/>
<circle cx="310.50" cy="85.70" r="1.35"/>
<circle cx="310.50" cy="90.40" r="1.35"/>
<circle cx="310.50" cy="92.40" r="1.35"/>
<circle cx="310.50" cy="93.70" r="1.35"/>
<circle cx="310.50" cy="100.90" r="1.35"/>
<circle cx="310.50" cy="102.20" r="1.35"/>
<circle cx="310.50" cy="109.20" r="1.35"/>
<circle cx="310.50" cy="114.60" r="1.35"/>
<circle cx="310.50" cy="125.10" r="1.35"/>
<circle cx="326.84" cy="41.20" r="1.35"/>
<circle cx="326.84" cy="49.50" r="1.35"/>
<circle cx="326.84" cy="61.30" r="1.35"/>
<circle cx="326.84" cy="63.20" r="1.35"/>
<circle cx="326.84" cy="67.20" r="1.35"/>
<circle cx="326.84" cy="71.30" r="1.35"/>
<circle cx="326.84" cy="76.10" r="1.35"/>
<circle cx="326.84" cy="78.80" r="1.35"/>
<circle cx="326.84" cy="82.40" r="1.35"/>
<circle cx="326.84" cy="86.30" r="1.35"/>
<circle cx="326.84" cy="90.40" r="1.35"/>
<circle cx="326.84" cy="92.40" r="1.35"/>
<circle cx="326.84" cy="99.10" r="1.35"/>
<circle cx="326.84" cy="101.80" r="1.35"/>
<circle cx="326.84" cy="103.80" r="1.35"/>
<circle cx="326.84" cy="106.50" r="1.35"/>
<circle cx="326.84" cy="109.20" r="1.35"/>
<circle cx="326.84" cy="114.60" r="1.35"/>
<circle cx="332.29" cy="37.10" r="1.35"/>
<circle cx="332.29" cy="44.40" r="1.35"/>
<circle cx="332.29" cy="56.90" r="1.35"/>
<circle cx="332.29" cy="60.30" r="1.35"/>
<circle cx="332.29" cy="66.30" r="1.35"/>
<circle cx="332.29" cy="71.30" r="1.35"/>
<circle cx="332.29" cy="74.40" r="1.35"/>
<circle cx="332.29" cy="76.40" r="1.35"/>
<circle cx="332.29" cy="81.80" r="1.35"/>
<circle cx="332.29" cy="86.90" r="1.35"/>
<circle cx="332.29" cy="92.40" r="1.35"/>
<circle cx="332.29" cy="116.20" r="1.35"/>
<circle cx="337.73" cy="51.90" r="1.35"/>
<circle cx="337.73" cy="66.30" r="1.35"/>
<circle cx="337.73" cy="69.70" r="1.35"/>
<circle cx="337.73" cy="70.70" r="1.35"/>
<circle cx="337.73" cy="74.40" r="1.35"/>
<circle cx="337.73" cy="78.00" r="1.35"/>
<circle cx="337.73" cy="80.70" r="1.35"/>
<circle cx="337.73" cy="83.40" r="1.35"/>
<circle cx="337.73" cy="90.10" r="1.35"/>
<circle cx="337.73" cy="92.00" r="1.35"/>
<circle cx="337.73" cy="106.80" r="1.35"/>
<circle cx="343.18" cy="54.90" r="1.35"/>
<circle cx="343.18" cy="56.20" r="1.35"/>
<circle cx="343.18" cy="58.20" r="1.35"/>
<circle cx="343.18" cy="60.30" r="1.35"/>
<circle cx="343.18" cy="62.30" r="1.35"/>
<circle cx="343.18" cy="65.00" r="1.35"/>
<circle cx="343.18" cy="67.00" r="1.35"/>
<circle cx="343.18" cy="68.10" r="1.35"/>
<circle cx="343.18" cy="71.30" r="1.35"/>
<circle cx="343.18" cy="76.10" r="1.35"/>
<circle cx="343.18" cy="84.50" r="1.35"/>
<circle cx="343.18" cy="86.50" r="1.35"/>
<circle cx="343.18" cy="91.00" r="1.35"/>
<circle cx="343.18" cy="92.40" r="1.35"/>
<circle cx="343.18" cy="93.70" r="1.35"/>
<circle cx="343.18" cy="95.10" r="1.35"/>
<circle cx="343.18" cy="101.40" r="1.35"/>
<circle cx="343.18" cy="107.20" r="1.35"/>
<circle cx="343.18" cy="109.90" r="1.35"/>
<circle cx="343.18" cy="135.00" r="1.35"/>
<circle cx="351.34" cy="46.80" r="1.35"/>
<circle cx="351.34" cy="60.30" r="1.35"/>
<circle cx="351.34" cy="63.60" r="1.35"/>
<circle cx="351.34" cy="71.70" r="1.35"/>
<circle cx="351.34" cy="74.40" r="1.35"/>
<circle cx="351.34" cy="77.10" r="1.35"/>
<circle cx="351.34" cy="83.80" r="1.35"/>
<circle cx="351.34" cy="85.10" r="1.35"/>
<circle cx="351.34" cy="89.00" r="1.35"/>
<circle cx="359.51" cy="46.50" r="1.35"/>
<circle cx="359.51" cy="52.50" r="1.35"/>
<circle cx="359.51" cy="60.90" r="1.35"/>
<circle cx="359.51" cy="63.20" r="1.35"/>
<circle cx="359.51" cy="64.30" r="1.35"/>
<circle cx="359.51" cy="68.30" r="1.35"/>
<circle cx="359.51" cy="74.40" r="1.35"/>
<circle cx="359.51" cy="80.40" r="1.35"/>
<circle cx="359.51" cy="81.50" r="1.35"/>
<circle cx="359.51" cy="87.00" r="1.35"/>
<circle cx="359.51" cy="89.00" r="1.35"/>
<circle cx="359.51" cy="93.70" r="1.35"/>
<circle cx="359.51" cy="95.10" r="1.35"/>
<circle cx="359.51" cy="101.80" r="1.35"/>
<circle cx="359.51" cy="103.10" r="1.35"/>
<circle cx="359.51" cy="107.20" r="1.35"/>
<circle cx="359.51" cy="116.20" r="1.35"/>
<circle cx="367.68" cy="68.30" r="1.35"/>
<circle cx="367.68" cy="70.70" r="1.35"/>
<circle cx="367.68" cy="72.60" r="1.35"/>
<circle cx="367.68" cy="74.80" r="1.35"/>
<circle cx="367.68" cy="76.40" r="1.35"/>
<circle cx="367.68" cy="80.40" r="1.35"/>
<circle cx="367.68" cy="82.80" r="1.35"/>
<circle cx="367.68" cy="85.80" r="1.35"/>
<circle cx="367.68" cy="90.40" r="1.35"/>
<circle cx="367.68" cy="102.50" r="1.35"/>
<circle cx="367.68" cy="107.20" r="1.35"/>
<circle cx="375.85" cy="49.80" r="1.35"/>
<circle cx="375.85" cy="63.60" r="1.35"/>
<circle cx="375.85" cy="68.60" r="1.35"/>
<circle cx="375.85" cy="75.30" r="1.35"/>
<circle cx="375.85" cy="82.00" r="1.35"/>
<circle cx="375.85" cy="86.10" r="1.35"/>
<circle cx="375.85" cy="91.00" r="1.35"/>
<circle cx="375.85" cy="95.50" r="1.35"/>
<circle cx="375.85" cy="118.30" r="1.35"/>
<circle cx="375.85" cy="125.30" r="1.35"/>
<circle cx="392.18" cy="58.20" r="1.35"/>
<circle cx="392.18" cy="71.70" r="1.35"/>
<circle cx="392.18" cy="74.40" r="1.35"/>
<circle cx="392.18" cy="77.10" r="1.35"/>
<circle cx="392.18" cy="78.80" r="1.35"/>
<circle cx="392.18" cy="80.70" r="1.35"/>
<circle cx="392.18" cy="82.80" r="1.35"/>
<circle cx="392.18" cy="85.10" r="1.35"/>
<circle cx="392.18" cy="87.00" r="1.35"/>
<circle cx="392.18" cy="93.10" r="1.35"/>
<circle cx="392.18" cy="94.40" r="1.35"/>
<circle cx="392.18" cy="99.10" r="1.35"/>
<circle cx="392.18" cy="102.20" r="1.35"/>
<circle cx="392.18" cy="125.30" r="1.35"/>
<circle cx="392.18" cy="135.00" r="1.35"/>
<circle cx="424.85" cy="61.20" r="1.35"/>
<circle cx="424.85" cy="66.20" r="1.35"/>
<circle cx="424.85" cy="68.70" r="1.35"/>
<circle cx="424.85" cy="73.90" r="1.35"/>
<circle cx="424.85" cy="76.30" r="1.35"/>
<circle cx="424.85" cy="78.70" r="1.35"/>
<circle cx="424.85" cy="80.40" r="1.35"/>
<circle cx="424.85" cy="86.00" r="1.35"/>
<circle cx="424.85" cy="90.40" r="1.35"/>
<circle cx="424.85" cy="93.50" r="1.35"/>
<circle cx="424.85" cy="95.50" r="1.35"/>
<circle cx="424.85" cy="100.10" r="1.35"/>
<circle cx="424.85" cy="102.60" r="1.35"/>
<circle cx="424.85" cy="104.20" r="1.35"/>
<circle cx="424.85" cy="108.60" r="1.35"/>
<circle cx="424.85" cy="116.70" r="1.35"/>
<circle cx="457.52" cy="49.10" r="1.35"/>
<circle cx="457.52" cy="69.90" r="1.35"/>
<circle cx="457.52" cy="72.30" r="1.35"/>
<circle cx="457.52" cy="74.30" r="1.35"/>
<circle cx="457.52" cy="76.30" r="1.35"/>
<circle cx="457.52" cy="78.30" r="1.35"/>
<circle cx="457.52" cy="80.40" r="1.35"/>
<circle cx="457.52" cy="82.40" r="1.35"/>
<circle cx="457.52" cy="86.80" r="1.35"/>
<circle cx="457.52" cy="88.40" r="1.35"/>
<circle cx="457.52" cy="94.50" r="1.35"/>
<circle cx="457.52" cy="102.60" r="1.35"/>
<circle cx="457.52" cy="108.60" r="1.35"/>
<circle cx="457.52" cy="125.10" r="1.35"/>
</g>
<g fill="none" stroke="#ff4646" stroke-width="1.05">
<circle cx="266.40" cy="322.98" r="0.95"/>
<circle cx="266.40" cy="338.81" r="0.95"/>
<circle cx="266.40" cy="346.83" r="0.95"/>
<circle cx="266.40" cy="347.66" r="0.95"/>
<circle cx="266.40" cy="348.39" r="0.95"/>
<circle cx="266.40" cy="364.53" r="0.95"/>
<circle cx="266.40" cy="373.59" r="0.95"/>
<circle cx="271.90" cy="301.42" r="0.95"/>
<circle cx="271.90" cy="314.54" r="0.95"/>
<circle cx="271.90" cy="318.08" r="0.95"/>
<circle cx="271.90" cy="321.10" r="0.95"/>
<circle cx="271.90" cy="329.54" r="0.95"/>
<circle cx="271.90" cy="338.81" r="0.95"/>
<circle cx="271.90" cy="347.14" r="0.95"/>
<circle cx="271.90" cy="354.33" r="0.95"/>
<circle cx="277.40" cy="274.14" r="0.95"/>
<circle cx="277.40" cy="281.84" r="0.95"/>
<circle cx="277.40" cy="287.36" r="0.95"/>
<circle cx="277.40" cy="290.17" r="0.95"/>
<circle cx="277.40" cy="297.57" r="0.95"/>
<circle cx="277.40" cy="299.34" r="0.95"/>
<circle cx="277.40" cy="301.42" r="0.95"/>
<circle cx="277.40" cy="304.65" r="0.95"/>
<circle cx="277.40" cy="319.44" r="0.95"/>
<circle cx="277.40" cy="328.60" r="0.95"/>
<circle cx="277.40" cy="339.75" r="0.95"/>
<circle cx="277.40" cy="342.56" r="0.95"/>
<circle cx="277.40" cy="348.18" r="0.95"/>
<circle cx="277.40" cy="352.35" r="0.95"/>
<circle cx="277.40" cy="356.51" r="0.95"/>
<circle cx="277.40" cy="364.53" r="0.95"/>
<circle cx="277.40" cy="373.39" r="0.95"/>
<circle cx="282.90" cy="270.18" r="0.95"/>
<circle cx="282.90" cy="280.70" r="0.95"/>
<circle cx="282.90" cy="291.63" r="0.95"/>
<circle cx="282.90" cy="295.07" r="0.95"/>
<circle cx="282.90" cy="297.88" r="0.95"/>
<circle cx="282.90" cy="299.75" r="0.95"/>
<circle cx="282.90" cy="302.36" r="0.95"/>
<circle cx="282.90" cy="312.98" r="0.95"/>
<circle cx="282.90" cy="319.44" r="0.95"/>
<circle cx="282.90" cy="332.77" r="0.95"/>
<circle cx="288.40" cy="274.76" r="0.95"/>
<circle cx="288.40" cy="275.49" r="0.95"/>
<circle cx="288.40" cy="281.84" r="0.95"/>
<circle cx="288.40" cy="295.07" r="0.95"/>
<circle cx="288.40" cy="299.34" r="0.95"/>
<circle cx="288.40" cy="303.19" r="0.95"/>
<circle cx="288.40" cy="309.13" r="0.95"/>
<circle cx="288.40" cy="316.63" r="0.95"/>
<circle cx="288.40" cy="320.90" r="0.95"/>
<circle cx="288.40" cy="322.56" r="0.95"/>
<circle cx="288.40" cy="342.56" r="0.95"/>
<circle cx="293.90" cy="273.41" r="0.95"/>
<circle cx="293.90" cy="283.20" r="0.95"/>
<circle cx="293.90" cy="286.01" r="0.95"/>
<circle cx="293.90" cy="292.99" r="0.95"/>
<circle cx="293.90" cy="294.44" r="0.95"/>
<circle cx="293.90" cy="298.61" r="0.95"/>
<circle cx="293.90" cy="312.56" r="0.95"/>
<circle cx="293.90" cy="314.13" r="0.95"/>
<circle cx="293.90" cy="320.90" r="0.95"/>
<circle cx="293.90" cy="327.87" r="0.95"/>
<circle cx="293.90" cy="329.96" r="0.95"/>
<circle cx="293.90" cy="332.04" r="0.95"/>
<circle cx="293.90" cy="338.39" r="0.95"/>
<circle cx="293.90" cy="355.58" r="0.95"/>
<circle cx="293.90" cy="364.53" r="0.95"/>
<circle cx="302.15" cy="259.66" r="0.95"/>
<circle cx="302.15" cy="267.05" r="0.95"/>
<circle cx="302.15" cy="274.34" r="0.95"/>
<circle cx="302.15" cy="293.40" r="0.95"/>
<circle cx="302.15" cy="297.15" r="0.95"/>
<circle cx="302.15" cy="299.03" r="0.95"/>
<circle cx="302.15" cy="300.69" r="0.95"/>
<circle cx="302.15" cy="306.94" r="0.95"/>
<circle cx="302.15" cy="312.98" r="0.95"/>
<circle cx="302.15" cy="316.00" r="0.95"/>
<circle cx="302.15" cy="329.54" r="0.95"/>
<circle cx="310.40" cy="284.97" r="0.95"/>
<circle cx="310.40" cy="294.13" r="0.95"/>
<circle cx="310.40" cy="298.19" r="0.95"/>
<circle cx="310.40" cy="304.23" r="0.95"/>
<circle cx="310.40" cy="308.40" r="0.95"/>
<circle cx="310.40" cy="311.21" r="0.95"/>
<circle cx="310.40" cy="313.19" r="0.95"/>
<circle cx="310.40" cy="318.08" r="0.95"/>
<circle cx="310.40" cy="320.17" r="0.95"/>
<circle cx="310.40" cy="321.52" r="0.95"/>
<circle cx="310.40" cy="329.02" r="0.95"/>
<circle cx="310.40" cy="330.37" r="0.95"/>
<circle cx="310.40" cy="337.66" r="0.95"/>
<circle cx="310.40" cy="343.29" r="0.95"/>
<circle cx="310.40" cy="354.22" r="0.95"/>
<circle cx="326.90" cy="266.85" r="0.95"/>
<circle cx="326.90" cy="275.49" r="0.95"/>
<circle cx="326.90" cy="287.78" r="0.95"/>
<circle cx="326.90" cy="289.76" r="0.95"/>
<circle cx="326.90" cy="293.92" r="0.95"/>
<circle cx="326.90" cy="298.19" r="0.95"/>
<circle cx="326.90" cy="303.19" r="0.95"/>
<circle cx="326.90" cy="306.00" r="0.95"/>
<circle cx="326.90" cy="309.75" r="0.95"/>
<circle cx="326.90" cy="313.81" r="0.95"/>
<circle cx="326.90" cy="318.08" r="0.95"/>
<circle cx="326.90" cy="320.17" r="0.95"/>
<circle cx="326.90" cy="327.15" r="0.95"/>
<circle cx="326.90" cy="329.96" r="0.95"/>
<circle cx="326.90" cy="332.04" r="0.95"/>
<circle cx="326.90" cy="334.85" r="0.95"/>
<circle cx="326.90" cy="337.66" r="0.95"/>
<circle cx="326.90" cy="343.29" r="0.95"/>
<circle cx="332.40" cy="262.58" r="0.95"/>
<circle cx="332.40" cy="270.18" r="0.95"/>
<circle cx="332.40" cy="283.20" r="0.95"/>
<circle cx="332.40" cy="286.74" r="0.95"/>
<circle cx="332.40" cy="292.99" r="0.95"/>
<circle cx="332.40" cy="298.19" r="0.95"/>
<circle cx="332.40" cy="301.42" r="0.95"/>
<circle cx="332.40" cy="303.50" r="0.95"/>
<circle cx="332.40" cy="309.13" r="0.95"/>
<circle cx="332.40" cy="314.44" r="0.95"/>
<circle cx="332.40" cy="320.17" r="0.95"/>
<circle cx="332.40" cy="344.95" r="0.95"/>
<circle cx="337.90" cy="277.99" r="0.95"/>
<circle cx="337.90" cy="292.99" r="0.95"/>
<circle cx="337.90" cy="296.53" r="0.95"/>
<circle cx="337.90" cy="297.57" r="0.95"/>
<circle cx="337.90" cy="301.42" r="0.95"/>
<circle cx="337.90" cy="305.17" r="0.95"/>
<circle cx="337.90" cy="307.98" r="0.95"/>
<circle cx="337.90" cy="310.79" r="0.95"/>
<circle cx="337.90" cy="317.77" r="0.95"/>
<circle cx="337.90" cy="319.75" r="0.95"/>
<circle cx="337.90" cy="335.16" r="0.95"/>
<circle cx="343.40" cy="281.11" r="0.95"/>
<circle cx="343.40" cy="282.47" r="0.95"/>
<circle cx="343.40" cy="284.55" r="0.95"/>
<circle cx="343.40" cy="286.74" r="0.95"/>
<circle cx="343.40" cy="288.82" r="0.95"/>
<circle cx="343.40" cy="291.63" r="0.95"/>
<circle cx="343.40" cy="293.71" r="0.95"/>
<circle cx="343.40" cy="294.86" r="0.95"/>
<circle cx="343.40" cy="298.19" r="0.95"/>
<circle cx="343.40" cy="303.19" r="0.95"/>
<circle cx="343.40" cy="311.94" r="0.95"/>
<circle cx="343.40" cy="314.02" r="0.95"/>
<circle cx="343.40" cy="318.71" r="0.95"/>
<circle cx="343.40" cy="320.17" r="0.95"/>
<circle cx="343.40" cy="321.52" r="0.95"/>
<circle cx="343.40" cy="322.98" r="0.95"/>
<circle cx="343.40" cy="329.54" r="0.95"/>
<circle cx="343.40" cy="335.58" r="0.95"/>
<circle cx="343.40" cy="338.39" r="0.95"/>
<circle cx="343.40" cy="364.53" r="0.95"/>
<circle cx="351.65" cy="272.68" r="0.95"/>
<circle cx="351.65" cy="286.74" r="0.95"/>
<circle cx="351.65" cy="290.17" r="0.95"/>
<circle cx="351.65" cy="298.61" r="0.95"/>
<circle cx="351.65" cy="301.42" r="0.95"/>
<circle cx="351.65" cy="304.23" r="0.95"/>
<circle cx="351.65" cy="311.21" r="0.95"/>
<circle cx="351.65" cy="312.56" r="0.95"/>
<circle cx="351.65" cy="316.63" r="0.95"/>
<circle cx="359.90" cy="272.36" r="0.95"/>
<circle cx="359.90" cy="278.61" r="0.95"/>
<circle cx="359.90" cy="287.36" r="0.95"/>
<circle cx="359.90" cy="289.76" r="0.95"/>
<circle cx="359.90" cy="290.90" r="0.95"/>
<circle cx="359.90" cy="295.07" r="0.95"/>
<circle cx="359.90" cy="301.42" r="0.95"/>
<circle cx="359.90" cy="307.67" r="0.95"/>
<circle cx="359.90" cy="308.82" r="0.95"/>
<circle cx="359.90" cy="314.54" r="0.95"/>
<circle cx="359.90" cy="316.63" r="0.95"/>
<circle cx="359.90" cy="321.52" r="0.95"/>
<circle cx="359.90" cy="322.98" r="0.95"/>
<circle cx="359.90" cy="329.96" r="0.95"/>
<circle cx="359.90" cy="331.31" r="0.95"/>
<circle cx="359.90" cy="335.58" r="0.95"/>
<circle cx="359.90" cy="344.95" r="0.95"/>
<circle cx="368.15" cy="295.07" r="0.95"/>
<circle cx="368.15" cy="297.57" r="0.95"/>
<circle cx="368.15" cy="299.55" r="0.95"/>
<circle cx="368.15" cy="301.84" r="0.95"/>
<circle cx="368.15" cy="303.50" r="0.95"/>
<circle cx="368.15" cy="307.67" r="0.95"/>
<circle cx="368.15" cy="310.17" r="0.95"/>
<circle cx="368.15" cy="313.29" r="0.95"/>
<circle cx="368.15" cy="318.08" r="0.95"/>
<circle cx="368.15" cy="330.69" r="0.95"/>
<circle cx="368.15" cy="335.58" r="0.95"/>
<circle cx="376.40" cy="275.80" r="0.95"/>
<circle cx="376.40" cy="290.17" r="0.95"/>
<circle cx="376.40" cy="295.38" r="0.95"/>
<circle cx="376.40" cy="302.36" r="0.95"/>
<circle cx="376.40" cy="309.34" r="0.95"/>
<circle cx="376.40" cy="313.61" r="0.95"/>
<circle cx="376.40" cy="318.71" r="0.95"/>
<circle cx="376.40" cy="323.40" r="0.95"/>
<circle cx="376.40" cy="347.14" r="0.95"/>
<circle cx="376.40" cy="354.43" r="0.95"/>
<circle cx="392.90" cy="284.55" r="0.95"/>
<circle cx="392.90" cy="298.61" r="0.95"/>
<circle cx="392.90" cy="301.42" r="0.95"/>
<circle cx="392.90" cy="304.23" r="0.95"/>
<circle cx="392.90" cy="306.00" r="0.95"/>
<circle cx="392.90" cy="307.98" r="0.95"/>
<circle cx="392.90" cy="310.17" r="0.95"/>
<circle cx="392.90" cy="312.56" r="0.95"/>
<circle cx="392.90" cy="314.54" r="0.95"/>
<circle cx="392.90" cy="320.90" r="0.95"/>
<circle cx="392.90" cy="322.25" r="0.95"/>
<circle cx="392.90" cy="327.15" r="0.95"/>
<circle cx="392.90" cy="330.37" r="0.95"/>
<circle cx="392.90" cy="354.43" r="0.95"/>
<circle cx="392.90" cy="364.53" r="0.95"/>
<circle cx="425.90" cy="287.67" r="0.95"/>
<circle cx="425.90" cy="292.88" r="0.95"/>
<circle cx="425.90" cy="295.48" r="0.95"/>
<circle cx="425.90" cy="300.90" r="0.95"/>
<circle cx="425.90" cy="303.40" r="0.95"/>
<circle cx="425.90" cy="305.90" r="0.95"/>
<circle cx="425.90" cy="307.67" r="0.95"/>
<circle cx="425.90" cy="313.50" r="0.95"/>
<circle cx="425.90" cy="318.08" r="0.95"/>
<circle cx="425.90" cy="321.31" r="0.95"/>
<circle cx="425.90" cy="323.40" r="0.95"/>
<circle cx="425.90" cy="328.19" r="0.95"/>
<circle cx="425.90" cy="330.79" r="0.95"/>
<circle cx="425.90" cy="332.46" r="0.95"/>
<circle cx="425.90" cy="337.04" r="0.95"/>
<circle cx="425.90" cy="345.47" r="0.95"/>
<circle cx="458.90" cy="275.07" r="0.95"/>
<circle cx="458.90" cy="296.73" r="0.95"/>
<circle cx="458.90" cy="299.23" r="0.95"/>
<circle cx="458.90" cy="301.32" r="0.95"/>
<circle cx="458.90" cy="303.40" r="0.95"/>
<circle cx="458.90" cy="305.48" r="0.95"/>
<circle cx="458.90" cy="307.67" r="0.95"/>
<circle cx="458.90" cy="309.75" r="0.95"/>
<circle cx="458.90" cy="314.34" r="0.95"/>
<circle cx="458.90" cy="316.00" r="0.95"/>
<circle cx="458.90" cy="322.35" r="0.95"/>
<circle cx="458.90" cy="330.79" r="0.95"/>
<circle cx="458.90" cy="337.04" r="0.95"/>
<circle cx="458.90" cy="354.22" r="0.95"/>
</g>
<polyline points="266.40,321.89 271.90,288.12 277.40,266.42 282.90,255.96 288.40,255.96 293.90,268.43 302.15,258.38 310.40,268.43 326.90,264.00 332.40,261.59 343.40,263.20 359.90,267.22 392.90,273.25 425.90,276.87 458.90,280.08" fill="none" stroke="#1a1ae8" stroke-width="1.8" stroke-dasharray="1.5 1.4"/>
<polyline points="266.40,346.82 271.90,324.71 277.40,337.97 282.90,302.60 293.90,321.89 302.15,305.01 310.40,311.44 326.90,306.62 343.40,309.03 359.90,310.64 392.90,313.85 425.90,317.47 458.90,321.09" fill="none" stroke="#1a1ae8" stroke-width="1.8" stroke-dasharray="1.5 1.4"/>
<polyline points="266.40,363.70 271.90,348.42 277.40,360.48 282.90,332.34 293.90,351.64 302.15,330.74 310.40,343.20 326.90,337.97 343.40,338.78 359.90,340.38 392.90,342.80 425.90,345.21 458.90,349.23" fill="none" stroke="#1a1ae8" stroke-width="1.8" stroke-dasharray="1.5 1.4"/>
<polyline points="266.40,321.97 277.40,276.06 282.90,268.83 288.40,274.46 293.90,274.46 302.15,259.18 310.40,284.10 326.90,270.44 332.40,261.59 337.90,276.87 343.40,280.08 351.65,275.26 359.90,275.58 368.15,295.60 376.40,277.67 392.90,287.80 425.90,288.53 458.90,279.76" fill="none" stroke="#111" stroke-width="1.6" stroke-dasharray="3.6 2.2"/>
<polyline points="266.40,337.97 271.90,324.30 277.40,333.15 282.90,300.99 288.40,303.40 293.90,325.11 302.15,300.18 310.40,311.44 326.90,306.62 332.40,298.58 337.90,302.60 343.40,311.44 351.65,304.20 359.90,310.88 368.15,311.44 376.40,314.66 392.90,313.85 425.90,318.68 458.90,313.05" fill="none" stroke="#111" stroke-width="1.6" stroke-dasharray="3.6 2.2"/>
<polyline points="266.40,373.35 271.90,353.25 277.40,371.74 282.90,332.34 288.40,337.17 293.90,361.69 302.15,329.13 310.40,350.84 326.90,341.99 332.40,345.21 337.90,334.76 343.40,357.27 351.65,319.48 359.90,340.38 368.15,335.08 376.40,354.29 392.90,361.37 425.90,345.21 458.90,350.03" fill="none" stroke="#111" stroke-width="1.6" stroke-dasharray="3.6 2.2"/>
<line x1="314" y1="376" x2="323.7" y2="376" stroke="#111" stroke-width="1.6" stroke-dasharray="3.6 2.2"/>
<line x1="314" y1="388.4" x2="323" y2="388.4" stroke="#1a1ae8" stroke-width="1.8" stroke-dasharray="1.5 1.4"/>
<text x="327.20" y="379.60" font-size="10.2" text-anchor="start" fill="#3a3a3a" textLength="79.6" lengthAdjust="spacingAndGlyphs" >Observed quantiles</text>
<text x="327.40" y="391.30" font-size="10.2" text-anchor="start" fill="#3535c0" textLength="78.0" lengthAdjust="spacingAndGlyphs" >Predicted quantiles</text>
<polyline points="567.2,154.6 578,142 586.9,133 596.7,126.5 601.2,124.3 604.6,120.9 605.7,117 607.9,111.4 612.4,103.5 618,93.4 624.7,80 628.6,74.5 634,70 640.7,66.8 650.8,64.8 658,63.5 665.5,60.7" fill="none" stroke="#5555ee" stroke-width="1"/>
<g fill="none" stroke="#333" stroke-width="0.9"><circle cx="616.9" cy="30.5" r="1.45"/><circle cx="665.5" cy="60.7" r="1.45"/><circle cx="611.8" cy="78.5" r="1.45"/><circle cx="608.8" cy="88.7" r="1.45"/><circle cx="606.8" cy="108.6" r="1.45"/><circle cx="605.1" cy="110.8" r="1.45"/><circle cx="606.2" cy="113.1" r="1.45"/><circle cx="596.2" cy="113.6" r="1.45"/><circle cx="621.4" cy="111.9" r="1.45"/><circle cx="607.4" cy="118.1" r="1.45"/><circle cx="613" cy="119.4" r="1.45"/><circle cx="609" cy="122.4" r="1.45"/><circle cx="618.2" cy="121.1" r="1.45"/><circle cx="605.7" cy="127.6" r="1.45"/><circle cx="601.2" cy="129.3" r="1.45"/><circle cx="567.5" cy="156" r="1.45"/><circle cx="569.3" cy="152.4" r="1.45"/><circle cx="576.5" cy="156.4" r="1.45"/><circle cx="574.7" cy="136.6" r="1.45"/><circle cx="577.4" cy="143.8" r="1.45"/><circle cx="581.5" cy="141.7" r="1.45"/><circle cx="585.5" cy="132.7" r="1.45"/><circle cx="604.5" cy="142.4" r="1.45"/><circle cx="604.8" cy="146.5" r="1.45"/></g>
<polyline points="554.5,268.5 575,300 590,326 606.2,349.6 620.9,363 629.8,371.7 663.9,385.5" fill="none" stroke="#5555ee" stroke-width="1"/>
<g fill="none" stroke="#333" stroke-width="0.9"><circle cx="554" cy="264.9" r="1.45"/><circle cx="588.9" cy="294" r="1.45"/><circle cx="575.5" cy="311.3" r="1.45"/><circle cx="580.9" cy="321.6" r="1.45"/><circle cx="597" cy="340.9" r="1.45"/><circle cx="598.7" cy="343.1" r="1.45"/><circle cx="601" cy="344.9" r="1.45"/><circle cx="594.3" cy="345.4" r="1.45"/><circle cx="609.1" cy="343.8" r="1.45"/><circle cx="607.8" cy="349.2" r="1.45"/><circle cx="613.3" cy="350.9" r="1.45"/><circle cx="614.6" cy="354.1" r="1.45"/><circle cx="618.7" cy="352.6" r="1.45"/><circle cx="620" cy="358.6" r="1.45"/><circle cx="621.4" cy="361.8" r="1.45"/><circle cx="610.7" cy="363.6" r="1.45"/><circle cx="605.1" cy="367.5" r="1.45"/><circle cx="624.1" cy="372.4" r="1.45"/><circle cx="624.1" cy="374.7" r="1.45"/><circle cx="646.9" cy="373.1" r="1.45"/><circle cx="637.6" cy="382.8" r="1.45"/><circle cx="648.1" cy="386" r="1.45"/><circle cx="659.1" cy="377.4" r="1.45"/><circle cx="663.9" cy="386.9" r="1.45"/></g>
<g fill="none" stroke="#1c1cf0" stroke-width="1.0">
<circle cx="76.93" cy="324.13" r="1.6"/>
<circle cx="95.05" cy="339.80" r="1.6"/>
<circle cx="63.04" cy="347.73" r="1.6"/>
<circle cx="76.00" cy="348.56" r="1.6"/>
<circle cx="63.37" cy="349.28" r="1.6"/>
<circle cx="61.47" cy="365.25" r="1.6"/>
<circle cx="54.75" cy="374.21" r="1.6"/>
<circle cx="141.11" cy="302.80" r="1.6"/>
<circle cx="81.79" cy="315.79" r="1.6"/>
<circle cx="113.51" cy="319.29" r="1.6"/>
<circle cx="87.82" cy="322.28" r="1.6"/>
<circle cx="84.46" cy="330.63" r="1.6"/>
<circle cx="65.48" cy="339.80" r="1.6"/>
<circle cx="71.98" cy="348.04" r="1.6"/>
<circle cx="70.44" cy="355.15" r="1.6"/>
<circle cx="152.29" cy="275.81" r="1.6"/>
<circle cx="129.29" cy="283.43" r="1.6"/>
<circle cx="134.98" cy="288.89" r="1.6"/>
<circle cx="150.34" cy="291.68" r="1.6"/>
<circle cx="126.41" cy="298.99" r="1.6"/>
<circle cx="119.06" cy="300.74" r="1.6"/>
<circle cx="128.11" cy="302.80" r="1.6"/>
<circle cx="123.39" cy="306.00" r="1.6"/>
<circle cx="99.95" cy="320.63" r="1.6"/>
<circle cx="84.50" cy="329.70" r="1.6"/>
<circle cx="71.02" cy="340.72" r="1.6"/>
<circle cx="72.85" cy="343.51" r="1.6"/>
<circle cx="64.48" cy="349.07" r="1.6"/>
<circle cx="65.74" cy="353.19" r="1.6"/>
<circle cx="68.52" cy="357.31" r="1.6"/>
<circle cx="52.03" cy="365.25" r="1.6"/>
<circle cx="55.43" cy="374.01" r="1.6"/>
<circle cx="145.68" cy="271.89" r="1.6"/>
<circle cx="146.27" cy="282.30" r="1.6"/>
<circle cx="155.05" cy="293.12" r="1.6"/>
<circle cx="109.18" cy="296.52" r="1.6"/>
<circle cx="116.55" cy="299.30" r="1.6"/>
<circle cx="108.65" cy="301.16" r="1.6"/>
<circle cx="97.81" cy="303.73" r="1.6"/>
<circle cx="111.69" cy="314.24" r="1.6"/>
<circle cx="113.07" cy="320.63" r="1.6"/>
<circle cx="75.25" cy="333.82" r="1.6"/>
<circle cx="137.37" cy="276.43" r="1.6"/>
<circle cx="141.81" cy="277.15" r="1.6"/>
<circle cx="134.20" cy="283.43" r="1.6"/>
<circle cx="139.99" cy="296.52" r="1.6"/>
<circle cx="119.09" cy="300.74" r="1.6"/>
<circle cx="124.16" cy="304.56" r="1.6"/>
<circle cx="123.61" cy="310.43" r="1.6"/>
<circle cx="98.98" cy="317.85" r="1.6"/>
<circle cx="106.77" cy="322.07" r="1.6"/>
<circle cx="102.67" cy="323.72" r="1.6"/>
<circle cx="77.86" cy="343.51" r="1.6"/>
<circle cx="152.41" cy="275.09" r="1.6"/>
<circle cx="121.19" cy="284.77" r="1.6"/>
<circle cx="135.06" cy="287.55" r="1.6"/>
<circle cx="131.27" cy="294.46" r="1.6"/>
<circle cx="129.57" cy="295.90" r="1.6"/>
<circle cx="129.40" cy="300.02" r="1.6"/>
<circle cx="116.96" cy="313.83" r="1.6"/>
<circle cx="83.94" cy="315.38" r="1.6"/>
<circle cx="73.76" cy="322.07" r="1.6"/>
<circle cx="76.06" cy="328.98" r="1.6"/>
<circle cx="76.09" cy="331.04" r="1.6"/>
<circle cx="91.07" cy="333.10" r="1.6"/>
<circle cx="82.16" cy="339.39" r="1.6"/>
<circle cx="72.95" cy="356.39" r="1.6"/>
<circle cx="60.18" cy="365.25" r="1.6"/>
<circle cx="150.88" cy="261.48" r="1.6"/>
<circle cx="153.35" cy="268.80" r="1.6"/>
<circle cx="145.42" cy="276.01" r="1.6"/>
<circle cx="114.63" cy="294.87" r="1.6"/>
<circle cx="110.54" cy="298.58" r="1.6"/>
<circle cx="128.22" cy="300.43" r="1.6"/>
<circle cx="115.35" cy="302.08" r="1.6"/>
<circle cx="113.31" cy="308.27" r="1.6"/>
<circle cx="115.95" cy="314.24" r="1.6"/>
<circle cx="97.73" cy="317.23" r="1.6"/>
<circle cx="75.07" cy="330.63" r="1.6"/>
<circle cx="122.95" cy="286.52" r="1.6"/>
<circle cx="133.50" cy="295.59" r="1.6"/>
<circle cx="117.07" cy="299.61" r="1.6"/>
<circle cx="114.90" cy="305.59" r="1.6"/>
<circle cx="107.94" cy="309.71" r="1.6"/>
<circle cx="115.92" cy="312.49" r="1.6"/>
<circle cx="93.12" cy="314.45" r="1.6"/>
<circle cx="107.29" cy="319.29" r="1.6"/>
<circle cx="90.02" cy="321.35" r="1.6"/>
<circle cx="96.56" cy="322.69" r="1.6"/>
<circle cx="98.91" cy="330.11" r="1.6"/>
<circle cx="67.16" cy="331.45" r="1.6"/>
<circle cx="74.07" cy="338.66" r="1.6"/>
<circle cx="61.18" cy="344.23" r="1.6"/>
<circle cx="57.76" cy="355.05" r="1.6"/>
<circle cx="149.41" cy="268.59" r="1.6"/>
<circle cx="139.37" cy="277.15" r="1.6"/>
<circle cx="139.42" cy="289.31" r="1.6"/>
<circle cx="146.35" cy="291.26" r="1.6"/>
<circle cx="135.90" cy="295.39" r="1.6"/>
<circle cx="119.55" cy="299.61" r="1.6"/>
<circle cx="100.49" cy="304.56" r="1.6"/>
<circle cx="116.38" cy="307.34" r="1.6"/>
<circle cx="130.87" cy="311.05" r="1.6"/>
<circle cx="102.65" cy="315.07" r="1.6"/>
<circle cx="91.04" cy="319.29" r="1.6"/>
<circle cx="97.11" cy="321.35" r="1.6"/>
<circle cx="79.02" cy="328.26" r="1.6"/>
<circle cx="77.41" cy="331.04" r="1.6"/>
<circle cx="87.79" cy="333.10" r="1.6"/>
<circle cx="60.83" cy="335.88" r="1.6"/>
<circle cx="56.36" cy="338.66" r="1.6"/>
<circle cx="85.57" cy="344.23" r="1.6"/>
<circle cx="154.63" cy="264.37" r="1.6"/>
<circle cx="149.38" cy="271.89" r="1.6"/>
<circle cx="133.62" cy="284.77" r="1.6"/>
<circle cx="140.79" cy="288.28" r="1.6"/>
<circle cx="100.51" cy="294.46" r="1.6"/>
<circle cx="130.75" cy="299.61" r="1.6"/>
<circle cx="121.70" cy="302.80" r="1.6"/>
<circle cx="118.73" cy="304.87" r="1.6"/>
<circle cx="120.06" cy="310.43" r="1.6"/>
<circle cx="97.22" cy="315.69" r="1.6"/>
<circle cx="82.42" cy="321.35" r="1.6"/>
<circle cx="59.43" cy="345.88" r="1.6"/>
<circle cx="149.72" cy="279.62" r="1.6"/>
<circle cx="142.71" cy="294.46" r="1.6"/>
<circle cx="127.58" cy="297.96" r="1.6"/>
<circle cx="120.27" cy="298.99" r="1.6"/>
<circle cx="131.94" cy="302.80" r="1.6"/>
<circle cx="108.63" cy="306.51" r="1.6"/>
<circle cx="109.28" cy="309.30" r="1.6"/>
<circle cx="104.66" cy="312.08" r="1.6"/>
<circle cx="115.87" cy="318.98" r="1.6"/>
<circle cx="90.30" cy="320.94" r="1.6"/>
<circle cx="59.20" cy="336.19" r="1.6"/>
<circle cx="145.30" cy="282.71" r="1.6"/>
<circle cx="145.71" cy="284.05" r="1.6"/>
<circle cx="142.95" cy="286.11" r="1.6"/>
<circle cx="141.34" cy="288.28" r="1.6"/>
<circle cx="138.26" cy="290.34" r="1.6"/>
<circle cx="125.53" cy="293.12" r="1.6"/>
<circle cx="126.45" cy="295.18" r="1.6"/>
<circle cx="122.84" cy="296.31" r="1.6"/>
<circle cx="113.50" cy="299.61" r="1.6"/>
<circle cx="108.59" cy="304.56" r="1.6"/>
<circle cx="99.17" cy="313.21" r="1.6"/>
<circle cx="110.07" cy="315.27" r="1.6"/>
<circle cx="95.07" cy="319.91" r="1.6"/>
<circle cx="93.56" cy="321.35" r="1.6"/>
<circle cx="93.45" cy="322.69" r="1.6"/>
<circle cx="97.94" cy="324.13" r="1.6"/>
<circle cx="66.92" cy="330.63" r="1.6"/>
<circle cx="91.98" cy="336.60" r="1.6"/>
<circle cx="84.81" cy="339.39" r="1.6"/>
<circle cx="74.27" cy="365.25" r="1.6"/>
<circle cx="158.81" cy="274.36" r="1.6"/>
<circle cx="145.16" cy="288.28" r="1.6"/>
<circle cx="153.73" cy="291.68" r="1.6"/>
<circle cx="134.46" cy="300.02" r="1.6"/>
<circle cx="123.69" cy="302.80" r="1.6"/>
<circle cx="98.01" cy="305.59" r="1.6"/>
<circle cx="107.70" cy="312.49" r="1.6"/>
<circle cx="99.03" cy="313.83" r="1.6"/>
<circle cx="112.79" cy="317.85" r="1.6"/>
<circle cx="147.92" cy="274.06" r="1.6"/>
<circle cx="140.78" cy="280.24" r="1.6"/>
<circle cx="137.92" cy="288.89" r="1.6"/>
<circle cx="120.01" cy="291.26" r="1.6"/>
<circle cx="129.27" cy="292.40" r="1.6"/>
<circle cx="113.07" cy="296.52" r="1.6"/>
<circle cx="100.20" cy="302.80" r="1.6"/>
<circle cx="110.73" cy="308.99" r="1.6"/>
<circle cx="115.89" cy="310.12" r="1.6"/>
<circle cx="98.60" cy="315.79" r="1.6"/>
<circle cx="108.00" cy="317.85" r="1.6"/>
<circle cx="105.22" cy="322.69" r="1.6"/>
<circle cx="106.06" cy="324.13" r="1.6"/>
<circle cx="69.73" cy="331.04" r="1.6"/>
<circle cx="66.91" cy="332.38" r="1.6"/>
<circle cx="64.53" cy="336.60" r="1.6"/>
<circle cx="71.93" cy="345.88" r="1.6"/>
<circle cx="136.90" cy="296.52" r="1.6"/>
<circle cx="123.54" cy="298.99" r="1.6"/>
<circle cx="120.94" cy="300.95" r="1.6"/>
<circle cx="138.24" cy="303.22" r="1.6"/>
<circle cx="125.98" cy="304.87" r="1.6"/>
<circle cx="99.72" cy="308.99" r="1.6"/>
<circle cx="106.77" cy="311.46" r="1.6"/>
<circle cx="108.84" cy="314.55" r="1.6"/>
<circle cx="75.18" cy="319.29" r="1.6"/>
<circle cx="89.83" cy="331.76" r="1.6"/>
<circle cx="79.49" cy="336.60" r="1.6"/>
<circle cx="148.40" cy="277.46" r="1.6"/>
<circle cx="138.67" cy="291.68" r="1.6"/>
<circle cx="128.47" cy="296.83" r="1.6"/>
<circle cx="121.71" cy="303.73" r="1.6"/>
<circle cx="113.97" cy="310.64" r="1.6"/>
<circle cx="101.67" cy="314.86" r="1.6"/>
<circle cx="83.63" cy="319.91" r="1.6"/>
<circle cx="119.02" cy="324.55" r="1.6"/>
<circle cx="65.13" cy="348.04" r="1.6"/>
<circle cx="62.77" cy="355.25" r="1.6"/>
<circle cx="138.74" cy="286.11" r="1.6"/>
<circle cx="140.30" cy="300.02" r="1.6"/>
<circle cx="127.23" cy="302.80" r="1.6"/>
<circle cx="104.93" cy="305.59" r="1.6"/>
<circle cx="115.73" cy="307.34" r="1.6"/>
<circle cx="127.01" cy="309.30" r="1.6"/>
<circle cx="128.69" cy="311.46" r="1.6"/>
<circle cx="86.78" cy="313.83" r="1.6"/>
<circle cx="125.07" cy="315.79" r="1.6"/>
<circle cx="83.74" cy="322.07" r="1.6"/>
<circle cx="96.89" cy="323.41" r="1.6"/>
<circle cx="99.07" cy="328.26" r="1.6"/>
<circle cx="73.49" cy="331.45" r="1.6"/>
<circle cx="69.06" cy="355.25" r="1.6"/>
<circle cx="57.13" cy="365.25" r="1.6"/>
<circle cx="150.35" cy="289.20" r="1.6"/>
<circle cx="127.46" cy="294.36" r="1.6"/>
<circle cx="134.56" cy="296.93" r="1.6"/>
<circle cx="121.06" cy="302.29" r="1.6"/>
<circle cx="125.07" cy="304.76" r="1.6"/>
<circle cx="120.39" cy="307.24" r="1.6"/>
<circle cx="85.42" cy="308.99" r="1.6"/>
<circle cx="97.46" cy="314.76" r="1.6"/>
<circle cx="89.87" cy="319.29" r="1.6"/>
<circle cx="94.29" cy="322.49" r="1.6"/>
<circle cx="98.02" cy="324.55" r="1.6"/>
<circle cx="67.56" cy="329.29" r="1.6"/>
<circle cx="86.57" cy="331.86" r="1.6"/>
<circle cx="100.32" cy="333.51" r="1.6"/>
<circle cx="88.27" cy="338.05" r="1.6"/>
<circle cx="74.80" cy="346.39" r="1.6"/>
<circle cx="155.71" cy="276.73" r="1.6"/>
<circle cx="132.21" cy="298.17" r="1.6"/>
<circle cx="143.76" cy="300.64" r="1.6"/>
<circle cx="134.45" cy="302.70" r="1.6"/>
<circle cx="118.90" cy="304.76" r="1.6"/>
<circle cx="106.49" cy="306.82" r="1.6"/>
<circle cx="118.34" cy="308.99" r="1.6"/>
<circle cx="119.45" cy="311.05" r="1.6"/>
<circle cx="109.43" cy="315.58" r="1.6"/>
<circle cx="94.33" cy="317.23" r="1.6"/>
<circle cx="103.83" cy="323.52" r="1.6"/>
<circle cx="79.54" cy="331.86" r="1.6"/>
<circle cx="64.42" cy="338.05" r="1.6"/>
<circle cx="59.96" cy="355.05" r="1.6"/>
<circle cx="80.50" cy="332.86" r="1.6"/>
<circle cx="129.42" cy="301.77" r="1.6"/>
<circle cx="136.26" cy="292.51" r="1.6"/>
<circle cx="127.18" cy="304.49" r="1.6"/>
<circle cx="116.11" cy="304.13" r="1.6"/>
<circle cx="122.65" cy="304.92" r="1.6"/>
<circle cx="125.38" cy="298.37" r="1.6"/>
<circle cx="92.21" cy="321.53" r="1.6"/>
<circle cx="158.30" cy="286.51" r="1.6"/>
<circle cx="137.52" cy="298.12" r="1.6"/>
<circle cx="120.66" cy="316.02" r="1.6"/>
<circle cx="129.46" cy="304.54" r="1.6"/>
<circle cx="90.47" cy="310.15" r="1.6"/>
<circle cx="122.93" cy="293.73" r="1.6"/>
<circle cx="69.92" cy="322.48" r="1.6"/>
<circle cx="130.07" cy="289.60" r="1.6"/>
<circle cx="122.56" cy="308.10" r="1.6"/>
<circle cx="84.01" cy="320.23" r="1.6"/>
<circle cx="76.32" cy="336.08" r="1.6"/>
<circle cx="127.81" cy="296.08" r="1.6"/>
<circle cx="144.06" cy="293.85" r="1.6"/>
<circle cx="87.93" cy="329.49" r="1.6"/>
<circle cx="86.45" cy="323.36" r="1.6"/>
<circle cx="125.90" cy="305.34" r="1.6"/>
<circle cx="133.20" cy="292.51" r="1.6"/>
<circle cx="98.11" cy="323.42" r="1.6"/>
<circle cx="94.17" cy="323.09" r="1.6"/>
<circle cx="140.81" cy="283.82" r="1.6"/>
<circle cx="126.39" cy="310.89" r="1.6"/>
<circle cx="140.51" cy="288.24" r="1.6"/>
<circle cx="136.82" cy="299.16" r="1.6"/>
<circle cx="115.55" cy="308.19" r="1.6"/>
<circle cx="86.07" cy="330.18" r="1.6"/>
<circle cx="147.98" cy="288.47" r="1.6"/>
<circle cx="94.60" cy="321.99" r="1.6"/>
<circle cx="137.91" cy="301.85" r="1.6"/>
<circle cx="135.71" cy="283.69" r="1.6"/>
<circle cx="142.06" cy="301.55" r="1.6"/>
<circle cx="89.93" cy="329.96" r="1.6"/>
<circle cx="107.93" cy="333.92" r="1.6"/>
<circle cx="113.03" cy="301.05" r="1.6"/>
<circle cx="118.47" cy="304.97" r="1.6"/>
<circle cx="74.90" cy="343.91" r="1.6"/>
<circle cx="150.42" cy="287.65" r="1.6"/>
<circle cx="69.83" cy="336.98" r="1.6"/>
<circle cx="85.48" cy="323.59" r="1.6"/>
<circle cx="131.00" cy="295.88" r="1.6"/>
<circle cx="83.78" cy="318.18" r="1.6"/>
<circle cx="111.68" cy="313.89" r="1.6"/>
<circle cx="111.20" cy="308.39" r="1.6"/>
<circle cx="107.8" cy="263.6" r="1.6"/>
</g>
<line x1="41.9" y1="363.8" x2="191.5" y2="250.3" stroke="#ff1a1a" stroke-width="1.35" stroke-dasharray="1.2 1.1"/>
</svg>
</body></html>
